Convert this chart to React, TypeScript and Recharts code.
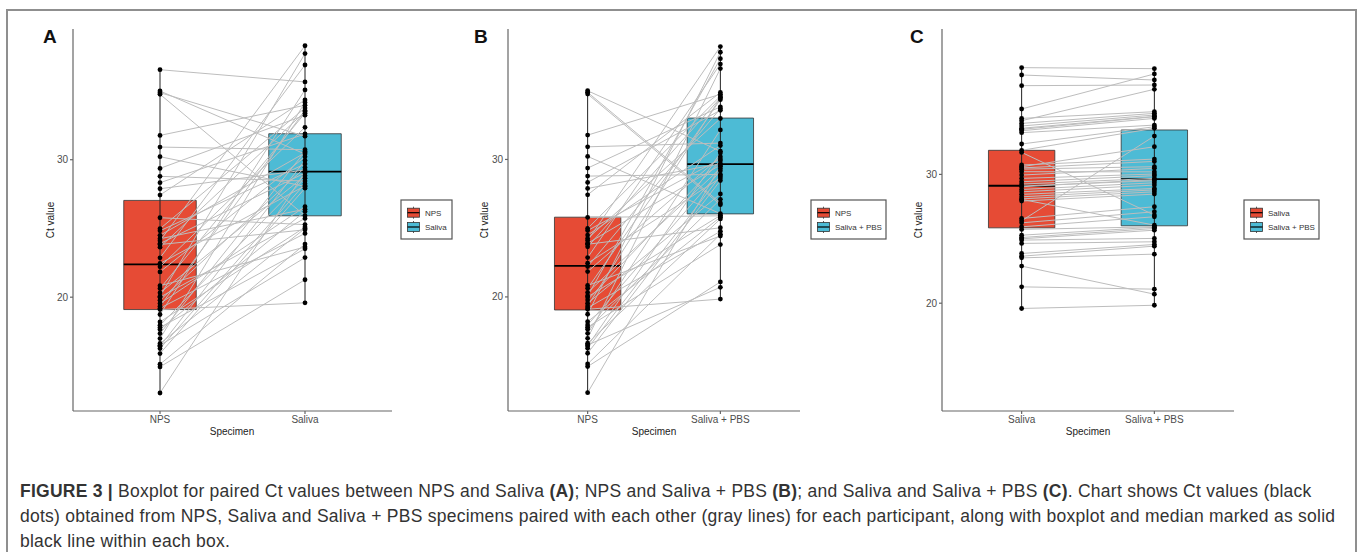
import React from 'react';
import {
    ComposedChart,
    Line,
    Scatter,
    XAxis,
    YAxis,
    ReferenceArea,
    ReferenceLine,
} from 'recharts';

// Ct values per participant (same order in every array); null = specimen not tested
const npsCt = [
    24.1, 20.07, 22.86, 36.55, 18.74, 27.43, 16.99, 31.77, 24.98, 19.34,
    23.64, 20.63, 29.37, 22.21, 28.33, 34.88, 30.92, 17.35, 24.5, 35.0,
    21.84, 16.43, 24.83, 19.78, 27.89, 13.03, 23.9, 20.32, 17.96, 28.79,
    16.26, 22.45, 30.22, 15.9, 19.54, 24.25, 17.65, 34.76, 20.0, 25.78,
    18.2, 16.63, 23.83, 19.2, 15.12, 20.83, 17.8, 16.5, 14.93, 19.1,
];
const salivaCt = [
    38.29, 37.72, 36.89, 35.66, 35.08, 34.35, 34.17, 33.96, 33.76, 33.58,
    33.5, 33.39, 33.24, 32.36, 31.87, 31.71, 30.73, 30.6, 30.5, 30.41,
    30.21, 29.95, 29.69, 29.43, 29.25, 29.1, 29.04, 28.83, 28.65, 28.45,
    28.26, 28.1, 28.06, 27.93, 26.58, 26.4, 26.24, 25.93, 25.73, 25.28,
    25.1, 25.0, 24.9, 24.64, 23.86, 23.65, 23.52, 22.88, 21.27, 19.59,
];
const salivaPbsCt = [
    38.21, 37.33, 36.94, null, 37.8, 34.87, 36.61, 34.74, 34.61, 34.5,
    34.48, 34.35, 33.83, 33.7, 33.58, 26.84, 31.19, 32.15, 31.01, 30.6,
    30.2, 30.47, 30.03, 29.9, 29.69, 29.51, 29.6, 29.35, 29.17, 28.91,
    28.8, 28.65, 26.06, 28.47, 27.49, 32.98, 27.1, 26.71, 25.93, 25.9,
    25.8, 25.67, 25.03, 24.77, 24.56, 24.43, 23.81, 20.7, 21.09, 19.84,
];

// box stats: [min, q1, median, q3, max]
const boxNpsA = [13.03, 19.1, 22.38, 27.04, 36.55];
const boxSalivaA = [19.6, 25.92, 29.13, 31.89, 38.25];
const boxNpsB = [13.0, 19.05, 22.26, 25.8, 35.05];
const boxPbsB = [19.83, 26.04, 29.66, 33.01, 38.23];
const boxSalivaC = [19.59, 25.85, 29.12, 31.87, 38.29];
const boxPbsC = [19.84, 26.01, 29.64, 33.45, 38.21];

const yTicks = [20, 30];

const RED = '#E64B35';
const BLUE = '#4DBBD5';
const FONT = '"Liberation Sans", Arial, Helvetica, sans-serif';

const Dot = (props: any) => {
    const { cx, cy } = props;
    if (cx == null || cy == null) return null;
    return <circle cx={cx} cy={cy} r={2.4} fill="#000" />;
};

interface PanelProps {
    left: number;
    width: number;
    domain: [number, number];
    names: [string, string];
    first: (number | null)[];
    second: (number | null)[];
    boxes: [number[], number[]];
}

const Panel: React.FC<PanelProps> = ({ left, width, domain, names, first, second, boxes }) => {
    const pairs = first
        .map((a, i) => [a, second[i]])
        .filter((p) => p[0] != null && p[1] != null) as number[][];
    const lineData = pairs.flatMap(([a, b]) => [
        { x: 1, y: a },
        { x: 2, y: b },
        { x: 2, y: null },
    ]);
    const dots1 = pairs.map(([a]) => ({ x: 1, y: a }));
    const dots2 = pairs.map(([, b]) => ({ x: 2, y: b }));
    const colors = [RED, BLUE];

    return (
        <div style={{ position: 'absolute', left, top: 0 }}>
            <ComposedChart
                width={width}
                height={451}
                margin={{ top: 29, right: 0, bottom: 0, left: 0 }}
            >
                <XAxis
                    type="number"
                    dataKey="x"
                    domain={[0.4, 2.6]}
                    ticks={[1, 2]}
                    allowDataOverflow
                    tickFormatter={(v) => (v === 1 ? names[0] : names[1])}
                    height={40}
                    stroke="#666"
                    strokeWidth={1.2}
                    tickSize={3}
                    tick={{ fontSize: 10, fill: '#4d4d4d', fontFamily: FONT }}
                />
                <YAxis
                    type="number"
                    dataKey="y"
                    domain={domain}
                    ticks={yTicks}
                    allowDataOverflow
                    width={40}
                    stroke="#666"
                    strokeWidth={1.2}
                    tickSize={3}
                    tick={{ fontSize: 10, fill: '#4d4d4d', fontFamily: FONT }}
                />
                {boxes.map((b, k) => (
                    <ReferenceLine
                        key={'w' + k}
                        segment={[{ x: k + 1, y: b[0] }, { x: k + 1, y: b[4] }]}
                        stroke="#222"
                        strokeWidth={1}
                    />
                ))}
                {boxes.map((b, k) => (
                    <ReferenceArea
                        key={'b' + k}
                        x1={k + 0.75}
                        x2={k + 1.25}
                        y1={b[1]}
                        y2={b[3]}
                        fill={colors[k]}
                        fillOpacity={1}
                        stroke="#333"
                        strokeWidth={0.8}
                    />
                ))}
                {boxes.map((b, k) => (
                    <ReferenceLine
                        key={'m' + k}
                        segment={[{ x: k + 0.75, y: b[2] }, { x: k + 1.25, y: b[2] }]}
                        stroke="#000"
                        strokeWidth={1.8}
                    />
                ))}
                <Line
                    data={lineData}
                    dataKey="y"
                    type="linear"
                    stroke="#bdbdbd"
                    strokeWidth={1}
                    dot={false}
                    activeDot={false}
                    connectNulls={false}
                    isAnimationActive={false}
                />
                <Scatter data={dots1} shape={<Dot />} isAnimationActive={false} />
                <Scatter data={dots2} shape={<Dot />} isAnimationActive={false} />
            </ComposedChart>
        </div>
    );
};

const LegendKey = ({ x, y, color }: { x: number; y: number; color: string }) => (
    <g>
        <line x1={x + 6} x2={x + 6} y1={y - 6} y2={y + 6} stroke="#333" strokeWidth={0.8} />
        <rect x={x} y={y - 4.5} width={12} height={9} fill={color} stroke="#333" strokeWidth={0.8} />
        <line x1={x} x2={x + 12} y1={y} y2={y} stroke="#000" strokeWidth={1.2} />
    </g>
);

const LegendBox = ({ x, w, labels }: { x: number; w: number; labels: string[] }) => (
    <g>
        <rect x={x} y={200} width={w} height={39} fill="#fff" stroke="#555" strokeWidth={1.2} />
        <LegendKey x={x + 6.5} y={212.7} color={RED} />
        <LegendKey x={x + 6.5} y={227} color={BLUE} />
        <text x={x + 24} y={215.6} fontSize={8} fill="#333">{labels[0]}</text>
        <text x={x + 24} y={229.9} fontSize={8} fill="#333">{labels[1]}</text>
    </g>
);

const App: React.FC = () => {
    return (
        <div
            style={{
                position: 'absolute',
                left: 0,
                top: 0,
                width: 1357,
                height: 552,
                background: '#fff',
                overflow: 'hidden',
                fontFamily: FONT,
            }}
        >
            <div
                style={{
                    position: 'absolute',
                    left: 6,
                    top: 9,
                    width: 1351,
                    height: 620,
                    boxSizing: 'border-box',
                    border: '2px solid #8f8f8f',
                }}
            />
            <Panel
                left={33}
                width={359}
                domain={[11.72, 39.51]}
                names={['NPS', 'Saliva']}
                first={npsCt}
                second={salivaCt}
                boxes={[boxNpsA, boxSalivaA]}
            />
            <Panel
                left={468}
                width={332}
                domain={[11.7, 39.49]}
                names={['NPS', 'Saliva + PBS']}
                first={npsCt}
                second={salivaPbsCt}
                boxes={[boxNpsB, boxPbsB]}
            />
            <Panel
                left={902}
                width={332}
                domain={[11.63, 41.29]}
                names={['Saliva', 'Saliva + PBS']}
                first={salivaCt}
                second={salivaPbsCt}
                boxes={[boxSalivaC, boxPbsC]}
            />
            <svg
                width={1357}
                height={552}
                style={{ position: 'absolute', left: 0, top: 0, pointerEvents: 'none' }}
                fontFamily={FONT}
            >
                <text x={43} y={43} fontSize={19} fontWeight="bold" fill="#111">A</text>
                <text x={474} y={43} fontSize={19} fontWeight="bold" fill="#111">B</text>
                <text x={910} y={43} fontSize={19} fontWeight="bold" fill="#111">C</text>

                <text transform="translate(53.5,220) rotate(-90)" textAnchor="middle" fontSize={10} fill="#222">Ct value</text>
                <text transform="translate(487.5,220) rotate(-90)" textAnchor="middle" fontSize={10} fill="#222">Ct value</text>
                <text transform="translate(921.5,220) rotate(-90)" textAnchor="middle" fontSize={10} fill="#222">Ct value</text>

                <text x={232} y={435} textAnchor="middle" fontSize={10} fill="#222">Specimen</text>
                <text x={654} y={435} textAnchor="middle" fontSize={10} fill="#222">Specimen</text>
                <text x={1088} y={435} textAnchor="middle" fontSize={10} fill="#222">Specimen</text>

                <LegendBox x={401} w={51} labels={['NPS', 'Saliva']} />
                <LegendBox x={811} w={75} labels={['NPS', 'Saliva + PBS']} />
                <LegendBox x={1244} w={75} labels={['Saliva', 'Saliva + PBS']} />
            </svg>
            <div
                style={{
                    position: 'absolute',
                    left: 20,
                    top: 479,
                    fontSize: 17.5,
                    letterSpacing: 0.25,
                    lineHeight: '25px',
                    color: '#333',
                    whiteSpace: 'nowrap',
                }}
            >
                <b>FIGURE 3 |</b> Boxplot for paired Ct values between NPS and Saliva <b>(A)</b>; NPS and Saliva + PBS <b>(B)</b>; and Saliva and Saliva + PBS <b>(C)</b>. Chart shows Ct values (black
                <br />
                dots) obtained from NPS, Saliva and Saliva + PBS specimens paired with each other (gray lines) for each participant, along with boxplot and median marked as solid
                <br />
                black line within each box.
            </div>
        </div>
    );
};

export default App;
